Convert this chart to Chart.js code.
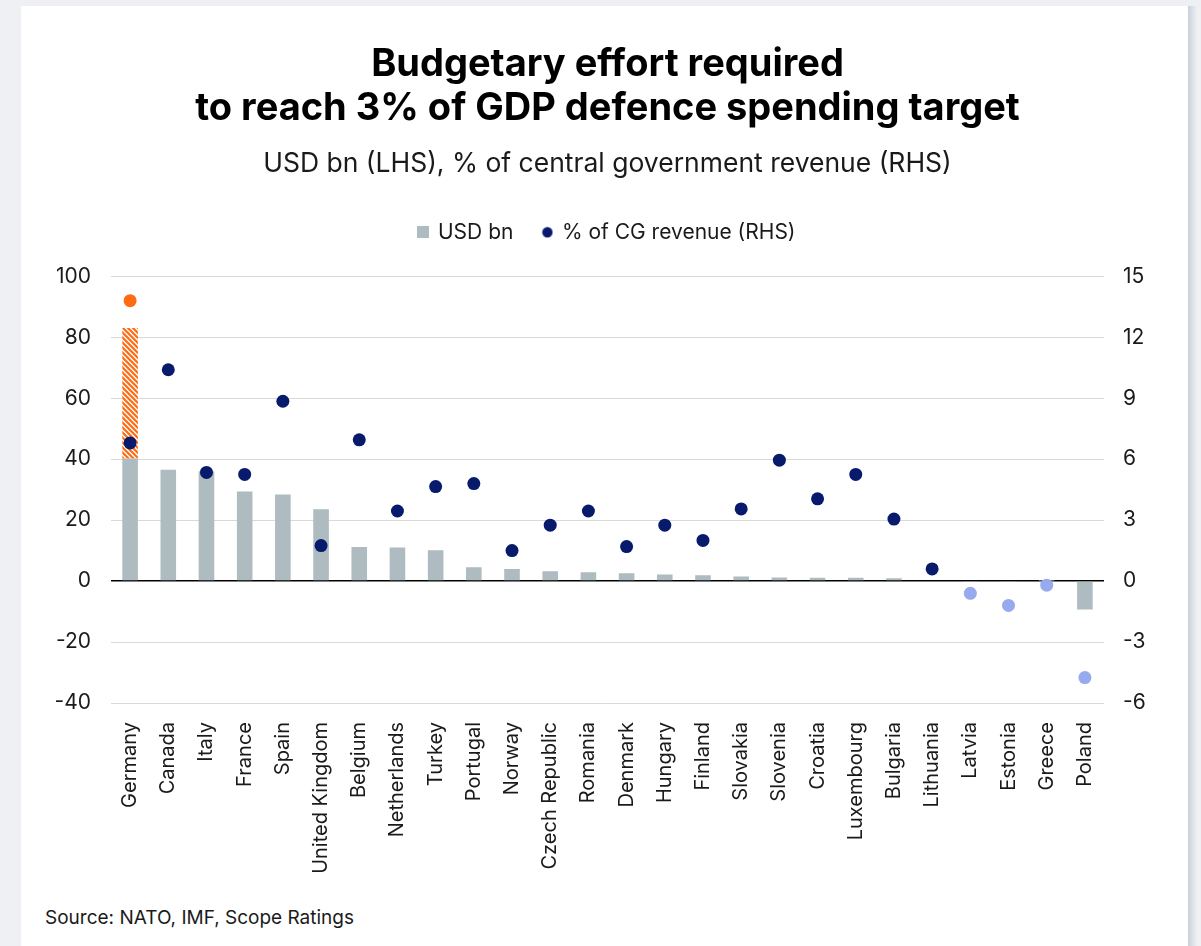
<!DOCTYPE html>
<html>
<head>
<meta charset="utf-8">
<script src="https://cdn.jsdelivr.net/npm/chart.js@4/dist/chart.umd.min.js"></script>
<style>
  body { margin: 0; background: #eff0f4; width: 1201px; height: 946px; overflow: hidden; font-family: Inter, sans-serif; }
  #card { position: absolute; left: 21px; top: 6px; width: 1167px; height: 1000px; background: #fff; }
  #edge { position: absolute; left: 1188px; top: 6px; width: 9px; height: 1000px;
          background: linear-gradient(to right, #c9d0da, #eff0f4); }
  #chart { position: absolute; left: 21px; top: 6px; }
  #source { position: absolute; left: 45px; top: 907px; font-size: 19px; line-height: 22px; color: #1a1a1a; }
</style>
</head>
<body>
<div id="card"></div>
<div id="edge"></div>
<canvas id="chart" width="1173" height="890"></canvas>
<div id="source">Source: NATO, IMF, Scope Ratings</div>
<script>
// countries, ordered by USD bn required
const countries = ['Germany', 'Canada', 'Italy', 'France', 'Spain', 'United Kingdom', 'Belgium',
  'Netherlands', 'Turkey', 'Portugal', 'Norway', 'Czech Republic', 'Romania', 'Denmark', 'Hungary',
  'Finland', 'Slovakia', 'Slovenia', 'Croatia', 'Luxembourg', 'Bulgaria', 'Lithuania', 'Latvia',
  'Estonia', 'Greece', 'Poland'];

// USD bn (LHS)
const usdBn = [40.2, 36.5, 36.0, 29.4, 28.4, 23.6, 11.2, 11.0, 10.1, 4.5, 4.0, 3.2, 2.9, 2.6, 2.2,
  1.9, 1.5, 1.2, 1.1, 1.1, 0.9, 0.3, -0.1, -0.3, 0.1, -9.3];

// Germany: extra amount on top of the base bar (hatched)
const usdBnExtra = [42.8, null, null, null, null, null, null, null, null, null, null, null, null,
  null, null, null, null, null, null, null, null, null, null, null, null, null];

// % of central government revenue (RHS)
const cgRevenue = [6.8, 10.4, 5.35, 5.25, 8.85, 1.75, 6.95, 3.45, 4.65, 4.8, 1.5, 2.75, 3.45, 1.7,
  2.75, 2.0, 3.55, 5.95, 4.05, 5.25, 3.05, 0.6, -0.6, -1.2, -0.2, -4.75];

// Germany including the extra amount
const cgRevenueExtra = [13.8, null, null, null, null, null, null, null, null, null, null, null, null,
  null, null, null, null, null, null, null, null, null, null, null, null, null];

const lhsTicks = { min: -40, max: 100, step: 20 };
const rhsTicks = { min: -6, max: 15, step: 3 };

const GREY   = '#aebbc0';
const NAVY   = '#071a6b';
const LIGHT  = '#98aaee';
const ORANGE = '#ff6b12';
const TEXT   = '#1a1a1a';

function hatch(color) {
  const c = document.createElement('canvas');
  c.width = 5; c.height = 5;
  const g = c.getContext('2d');
  g.fillStyle = '#fff';
  g.fillRect(0, 0, 5, 5);
  g.strokeStyle = color;
  g.lineWidth = 2.2;
  g.beginPath();
  g.moveTo(-1, -1); g.lineTo(6, 6);
  g.moveTo(-1, 4);  g.lineTo(1, 6);
  g.moveTo(4, -1);  g.lineTo(6, 1);
  g.stroke();
  return g.createPattern(c, 'repeat');
}

function legendMark(shape, color) {
  const c = document.createElement('canvas');
  const size = 12;
  c.width = size; c.height = size;
  const g = c.getContext('2d');
  g.fillStyle = color;
  if (shape === 'square') {
    g.fillRect(0, 0, size, size);
  } else {
    g.beginPath();
    g.arc(size / 2, size / 2, 5.2, 0, Math.PI * 2);
    g.fill();
  }
  return c;
}

// extra room between the legend and the plot
const legendGap = {
  id: 'legendGap',
  beforeLayout(chart) {
    const lg = chart.legend;
    if (lg && !lg._gapped) {
      const fit = lg.fit;
      lg.fit = function () {
        fit.call(this);
        this.height += 23.5;
      };
      lg._gapped = true;
    }
  }
};

const ctx = document.getElementById('chart').getContext('2d');

new Chart(ctx, {
  type: 'bar',
  plugins: [legendGap],
  data: {
    labels: countries,
    datasets: [
      {
        type: 'line',
        label: '% of CG revenue (RHS)',
        data: cgRevenue,
        yAxisID: 'y1',
        showLine: false,
        order: 0,
        pointRadius: 6.5,
        pointHoverRadius: 6.5,
        pointBorderWidth: 0,
        pointBackgroundColor: cgRevenue.map(v => v < 0 ? LIGHT : NAVY),
        pointBorderColor: cgRevenue.map(v => v < 0 ? LIGHT : NAVY)
      },
      {
        type: 'line',
        label: '% of CG revenue incl. extra',
        data: cgRevenueExtra,
        yAxisID: 'y1',
        showLine: false,
        order: 0,
        pointRadius: 6.5,
        pointHoverRadius: 6.5,
        pointBorderWidth: 0,
        pointBackgroundColor: ORANGE,
        pointBorderColor: ORANGE
      },
      {
        label: 'USD bn',
        data: usdBn,
        yAxisID: 'y',
        stack: 'usd',
        order: 1,
        backgroundColor: GREY,
        categoryPercentage: 0.8,
        barPercentage: 0.51
      },
      {
        label: 'USD bn extra',
        data: usdBnExtra,
        yAxisID: 'y',
        stack: 'usd',
        order: 1,
        backgroundColor: hatch(ORANGE),
        categoryPercentage: 0.8,
        barPercentage: 0.51
      }
    ]
  },
  options: {
    responsive: false,
    animation: false,
    layout: { padding: 0 },
    plugins: {
      title: {
        display: true,
        text: ['Budgetary effort required', 'to reach 3% of GDP defence spending target'],
        color: '#000',
        font: { family: 'Inter', size: 38, weight: 'bold', lineHeight: 1.158 },
        padding: { top: 37, bottom: 10 }
      },
      subtitle: {
        display: true,
        text: 'USD bn (LHS), % of central government revenue (RHS)',
        color: TEXT,
        font: { family: 'Inter', size: 26.5, lineHeight: 1.2 },
        padding: { top: 7.5, bottom: 11.5 }
      },
      legend: {
        display: true,
        position: 'top',
        labels: {
          usePointStyle: true,
          boxWidth: 8,
          boxHeight: 12,
          padding: 30,
          color: TEXT,
          font: { family: 'Inter', size: 21 },
          generateLabels: () => [
            { text: 'USD bn', pointStyle: legendMark('square', GREY), fillStyle: GREY,
              strokeStyle: GREY, lineWidth: 0, hidden: false, datasetIndex: 2, fontColor: TEXT },
            { text: '% of CG revenue (RHS)', pointStyle: legendMark('circle', NAVY), fillStyle: NAVY,
              strokeStyle: NAVY, lineWidth: 0, hidden: false, datasetIndex: 0, fontColor: TEXT }
          ]
        }
      },
      tooltip: { enabled: false }
    },
    scales: {
      x: {
        stacked: true,
        grid: { display: false },
        border: { display: false },
        ticks: {
          autoSkip: false,
          minRotation: 90,
          maxRotation: 90,
          padding: 11,
          color: TEXT,
          font: { family: 'Inter', size: 20 }
        },
        afterFit: s => { s.height = 193; }
      },
      y: {
        stacked: true,
        position: 'left',
        min: lhsTicks.min,
        max: lhsTicks.max,
        border: { display: false },
        grid: {
          drawTicks: false,
          color: c => c.tick.value === 0 ? '#000' : '#d9d9d9',
          lineWidth: c => c.tick.value === 0 ? 1.5 : 1
        },
        ticks: {
          stepSize: lhsTicks.step,
          padding: 20,
          color: TEXT,
          font: { family: 'Inter', size: 21 }
        },
        afterFit: s => { s.width = 90; }
      },
      y1: {
        position: 'right',
        min: rhsTicks.min,
        max: rhsTicks.max,
        border: { display: false },
        grid: { display: false, drawTicks: false },
        ticks: {
          stepSize: rhsTicks.step,
          padding: 19,
          color: TEXT,
          font: { family: 'Inter', size: 21 }
        },
        afterFit: s => { s.width = 90; }
      }
    }
  }
});
</script>
</body>
</html>
